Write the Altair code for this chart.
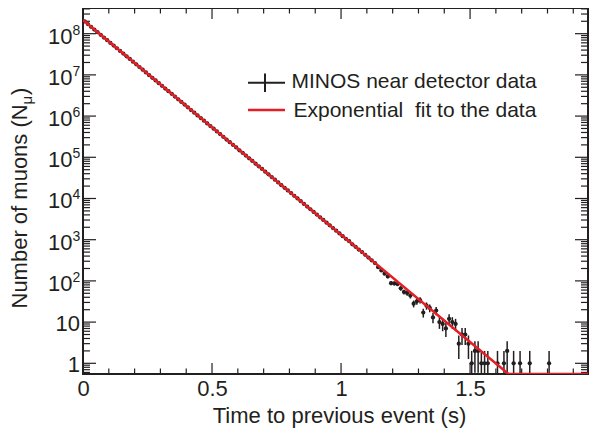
import math
import pandas as pd
import altair as alt

# ---------------- data ----------------
BIN_WIDTH = 0.0125  # seconds per histogram bin
muon_counts = [
    1.99e8, 1.71e8, 1.47e8, 1.26e8, 1.09e8, 9.37e7, 8.07e7, 6.94e7, 5.98e7, 5.15e7,
    4.43e7, 3.81e7, 3.29e7, 2.83e7, 2.44e7, 2.09e7, 1.80e7, 1.55e7, 1.34e7, 1.15e7,
    9.84e6, 8.51e6, 7.32e6, 6.30e6, 5.42e6, 4.67e6, 4.02e6, 3.46e6, 2.98e6, 2.56e6,
    2.21e6, 1.90e6, 1.63e6, 1.40e6, 1.21e6, 1.04e6, 8.98e5, 7.73e5, 6.65e5, 5.72e5,
    4.93e5, 4.24e5, 3.65e5, 3.14e5, 2.70e5, 2.33e5, 2.01e5, 1.73e5, 1.48e5, 1.28e5,
    1.10e5, 9.46e4, 8.15e4, 7.01e4, 6.04e4, 5.20e4, 4.47e4, 3.85e4, 3.31e4, 2.86e4,
    2.45e4, 2.11e4, 1.81e4, 1.57e4, 1.35e4, 1.16e4, 1.00e4, 8590, 7390, 6360,
    5480, 4720, 4060, 3500, 3010, 2590, 2230, 1920, 1650, 1420,
    1220, 1050, 920, 775, 670, 575, 500, 430, 368, 315,
    270, 215, 180, 150, 128, 88, 87, 84, 66, 54,
    51, 44, 28, 32, 34, 17, 25, 22, 13, 19,
    10, 9, 7, 12, 10, 9, 3, 5, 5, 3,
    1, 2, 2, 1, 1, 1, 0, 0, 1, 0,
    1, 2, 0, 1, 0, 1, 0, 0, 1, 0,
    0, 0, 0, 0, 1,
]

fit_time = [0.0, 1.649, 1.99]
fit_counts = [2.14e8, 0.55, 0.55]

x_domain = [0.0, 1.957]
y_domain = [0.55, 4.2e8]
x_label_values = [0.0, 0.5, 1.0, 1.5]
x_major_ticks = [0.0, 0.5, 1.0, 1.5]
x_minor_ticks = [0.1, 0.2, 0.3, 0.4, 0.6, 0.7, 0.8, 0.9, 1.1, 1.2, 1.3, 1.4,
                 1.6, 1.7, 1.8, 1.9]
y_major_ticks = [1, 10, 1e2, 1e3, 1e4, 1e5, 1e6, 1e7, 1e8]
y_plain_labels = ["1", "10"]
y_plain_values = [1, 10]
y_power_exponents = ["2", "3", "4", "5", "6", "7", "8"]
y_power_values = [1e2, 1e3, 1e4, 1e5, 1e6, 1e7, 1e8]
legend_texts = ["MINOS near detector data", "Exponential\u00a0 fit to the data"]
x_title = "Time to previous event (s)"
y_title_parts = ["Number of muons (N", "\u03bc", ")"]

# ---------------- styling ----------------
W, H = 505, 366
FONT = "Liberation Sans"
INK = "#231f20"
RED = "#e31e24"

rows = []
for k, n in enumerate(muon_counts):
    if n <= 0:
        continue
    c = (k + 0.5) * BIN_WIDTH
    e = math.sqrt(n)
    rows.append(dict(t=c, n=n, lo=max(n - e, 0.3), hi=n + e,
                     t0=c - BIN_WIDTH / 2, t1=c + BIN_WIDTH / 2))
data = pd.DataFrame(rows)
fit = pd.DataFrame({"t": fit_time, "n": fit_counts})

y_minor = [m * 10.0 ** d for d in range(-1, 9) for m in range(2, 10)
           if y_domain[0] <= m * 10.0 ** d <= y_domain[1]]

xscale = alt.Scale(domain=x_domain, nice=False, zero=False)
yscale = alt.Scale(type="log", domain=y_domain, nice=False)
xaxis = alt.Axis(values=x_label_values, format="~g", labelFlush=False,
                 labelOverlap=False, labelFont=FONT, labelFontSize=22,
                 labelColor=INK, labelPadding=4, ticks=False, tickSize=0,
                 domain=False, grid=False, title=x_title, titleFont=FONT,
                 titleFontSize=22, titleFontWeight="normal", titleColor=INK,
                 titlePadding=6, titleX=256, titleAnchor="middle")


def X(field):
    return alt.X(field, type="quantitative", scale=xscale, axis=xaxis)


def Y(field):
    return alt.Y(field, type="quantitative", scale=yscale, axis=None)


one = pd.DataFrame({"a": [0]})
layers = []

# frame
layers.append(alt.Chart(one).mark_rect(fillOpacity=0, stroke=INK, strokeWidth=2).encode(
    x=alt.value(0), x2=alt.value(W), y=alt.value(0), y2=alt.value(H)))

# x ticks (inward, bottom and top)
xmaj = pd.DataFrame({"t": x_major_ticks})
xmin = pd.DataFrame({"t": x_minor_ticks})
for df, L in ((xmaj, 11), (xmin, 5.5)):
    layers.append(alt.Chart(df).mark_rule(color=INK, strokeWidth=1.2).encode(
        x=X("t"), y=alt.value(H), y2=alt.value(H - L)))
    layers.append(alt.Chart(df).mark_rule(color=INK, strokeWidth=1.2).encode(
        x=X("t"), y=alt.value(0), y2=alt.value(L)))

# y ticks (inward, left and right)
ymaj = pd.DataFrame({"v": y_major_ticks})
ymin = pd.DataFrame({"v": y_minor})
for df, L in ((ymaj, 13), (ymin, 7)):
    layers.append(alt.Chart(df).mark_rule(color=INK, strokeWidth=1.2).encode(
        y=Y("v"), x=alt.value(0), x2=alt.value(L)))
    layers.append(alt.Chart(df).mark_rule(color=INK, strokeWidth=1.2).encode(
        y=Y("v"), x=alt.value(W), x2=alt.value(W - L)))

# y tick labels
plain = pd.DataFrame({"v": y_plain_values, "s": y_plain_labels})
power = pd.DataFrame({"v": y_power_values, "e": y_power_exponents,
                      "b": ["10"] * len(y_power_values)})
layers.append(alt.Chart(plain).mark_text(align="right", baseline="alphabetic", dy=8.5,
                                         font=FONT, fontSize=22, color=INK).encode(
    y=Y("v"), x=alt.value(-3), text="s:N"))
layers.append(alt.Chart(power).mark_text(align="right", baseline="alphabetic", dy=10,
                                         font=FONT, fontSize=22, color=INK).encode(
    y=Y("v"), x=alt.value(-10.5), text="b:N"))
layers.append(alt.Chart(power).mark_text(align="left", baseline="alphabetic", dy=1,
                                         font=FONT, fontSize=14, color=INK).encode(
    y=Y("v"), x=alt.value(-10.5), text="e:N"))

# y title with subscript
yt = pd.DataFrame({"s": y_title_parts})
layers.append(alt.Chart(yt.iloc[[0]]).mark_text(angle=270, align="left", baseline="alphabetic",
                                                font=FONT, fontSize=22, color=INK).encode(
    x=alt.value(-56), y=alt.value(300.5), text="s:N"))
layers.append(alt.Chart(yt.iloc[[1]]).mark_text(angle=270, align="left", baseline="alphabetic",
                                                font=FONT, fontSize=15, color=INK).encode(
    x=alt.value(-51), y=alt.value(96.5), text="s:N"))
layers.append(alt.Chart(yt.iloc[[2]]).mark_text(angle=270, align="left", baseline="alphabetic",
                                                font=FONT, fontSize=22, color=INK).encode(
    x=alt.value(-56), y=alt.value(87), text="s:N"))

# data: error bars and markers
layers.append(alt.Chart(data).mark_rule(color=INK, strokeWidth=1.5, clip=True).encode(
    x=X("t"), y=Y("lo"), y2="hi"))
layers.append(alt.Chart(data).mark_rule(color=INK, strokeWidth=1.5, clip=True).encode(
    x=X("t0"), x2="t1", y=Y("n")))
layers.append(alt.Chart(data).mark_circle(color=INK, size=18, opacity=1, clip=True).encode(
    x=X("t"), y=Y("n")))

# exponential fit
layers.append(alt.Chart(fit).mark_line(color=RED, strokeWidth=2.5, clip=True).encode(
    x=X("t"), y=Y("n")))

# legend
layers.append(alt.Chart(one).mark_rule(color=INK, strokeWidth=2).encode(
    x=alt.value(165), x2=alt.value(202), y=alt.value(74.7)))
layers.append(alt.Chart(one).mark_rule(color=INK, strokeWidth=2).encode(
    x=alt.value(182), y=alt.value(65.5), y2=alt.value(84)))
layers.append(alt.Chart(one).mark_rule(color=RED, strokeWidth=2.5).encode(
    x=alt.value(165), x2=alt.value(202), y=alt.value(102)))
lg = pd.DataFrame({"s": legend_texts})
layers.append(alt.Chart(lg.iloc[[0]]).mark_text(align="left", baseline="alphabetic",
                                                font=FONT, fontSize=21, color=INK).encode(
    x=alt.value(208.5), y=alt.value(80.3), text="s:N"))
layers.append(alt.Chart(lg.iloc[[1]]).mark_text(align="left", baseline="alphabetic",
                                                font=FONT, fontSize=21, color=INK).encode(
    x=alt.value(210.5), y=alt.value(108.7), text="s:N"))

chart = alt.layer(*layers).properties(
    width=W, height=H,
    autosize=alt.AutoSizeParams(type="none"),
    padding={"left": 75, "top": 0, "right": 1, "bottom": 57},
).configure_view(stroke=None)

chart.save("out.html", embed_options={"renderer": "svg", "actions": False})
